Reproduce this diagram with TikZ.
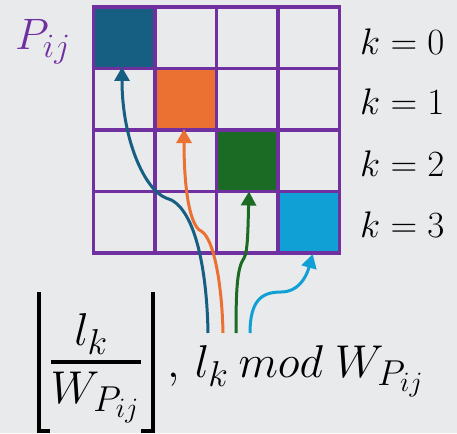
\documentclass[tikz,border=0pt]{standalone}
\usepackage{fix-cm}
\DeclareMathSizes{46}{46}{36}{28}
\DeclareMathSizes{44}{44}{34}{26}
\DeclareMathSizes{37}{37}{29}{23}
\usetikzlibrary{arrows.meta}
\definecolor{bgc}{HTML}{E9EAEC}
\definecolor{purp}{HTML}{7030A0}
\definecolor{tealc}{HTML}{175E83}
\definecolor{orangec}{HTML}{EA7132}
\definecolor{greenc}{HTML}{1B6B24}
\definecolor{bluec}{HTML}{10A0D5}
\tikzset{
  cell/.style={draw=purp, line width=3.5pt, minimum size=61.5pt, inner sep=0pt, outer sep=0pt},
  conn/.style={line width=3pt, -{Triangle[length=14pt,width=15pt]}},
  klab/.style={anchor=base west, inner sep=0pt, font=\fontsize{37}{44}\selectfont},
  big/.style={inner sep=0pt, font=\fontsize{46}{55}\selectfont},
  brk/.style={line width=4pt, line cap=butt}
}
\begin{document}
\begin{tikzpicture}[x=1pt,y=-1pt]
\fill[bgc] (0,0) rectangle (457,433);
\useasboundingbox (0,0) rectangle (457,433);
% grid cells
\foreach \r/\c/\f in {0/0/tealc,0/1/bgc,0/2/bgc,0/3/bgc,
                      1/0/bgc,1/1/orangec,1/2/bgc,1/3/bgc,
                      2/0/bgc,2/1/bgc,2/2/greenc,2/3/bgc,
                      3/0/bgc,3/1/bgc,3/2/bgc,3/3/bluec}
  \node[cell, fill=\f] (c\r\c) at ({93.5+61.5*(\c+0.5)},{7+61.5*(\r+0.5)}) {};
% labels
\node[anchor=base west, inner sep=0pt, text=purp, font=\fontsize{44}{52}\selectfont] (pij) at (15,50) {$P_{ij}$};
\node[klab] (k0) at (360,55) {$k=0$};
\node[klab] (k1) at (360,114) {$k=1$};
\node[klab] (k2) at (360,176) {$k=2$};
\node[klab] (k3) at (360,237) {$k=3$};
% formula
\node[big, anchor=base] (num) at (91,345) {$l_k$};
\node[big, anchor=base] (den) at (95,403) {$W_{P_{ij}}$};
\draw[line width=4pt] (51,362) -- (141,362);
\draw[brk] (38.5,292) -- (38.5,430.5) -- (50,430.5);
\draw[brk] (152.5,292) -- (152.5,430.5) -- (141,430.5);
\node[big, anchor=base west] (rest) at (167,377) {$,\,l_k\hspace{10pt}mod\hspace{12pt}W_{P_{ij}}$};
% connector start points
\coordinate (s0) at (208,333);
\coordinate (s1) at (223,333);
\coordinate (s2) at (236,333);
\coordinate (s3) at (250,333);
% connectors
\draw[conn, tealc] (s0) .. controls (207,270) and (195,205) .. (166,198)
   .. controls (145,190) and (122,140) .. ([xshift=-2.25pt,yshift=1.5pt]c00.south);
\draw[conn, orangec] (s1) .. controls (222,285) and (214,238) .. (201,231)
   .. controls (190,226) and (184,190) .. ([xshift=-1.75pt,yshift=1pt]c11.south);
\draw[conn, greenc] (s2) .. controls (236,290) and (237,268) .. (244,258)
   .. controls (248,252) and (248,225) .. ([xshift=1.75pt]c22.south);
\draw[conn, bluec] (s3) .. controls (250,300) and (262,292) .. (281,292)
   .. controls (298,292) and (306,278) .. ([xshift=4pt,yshift=-1pt]c33.south);
\end{tikzpicture}
\end{document}
